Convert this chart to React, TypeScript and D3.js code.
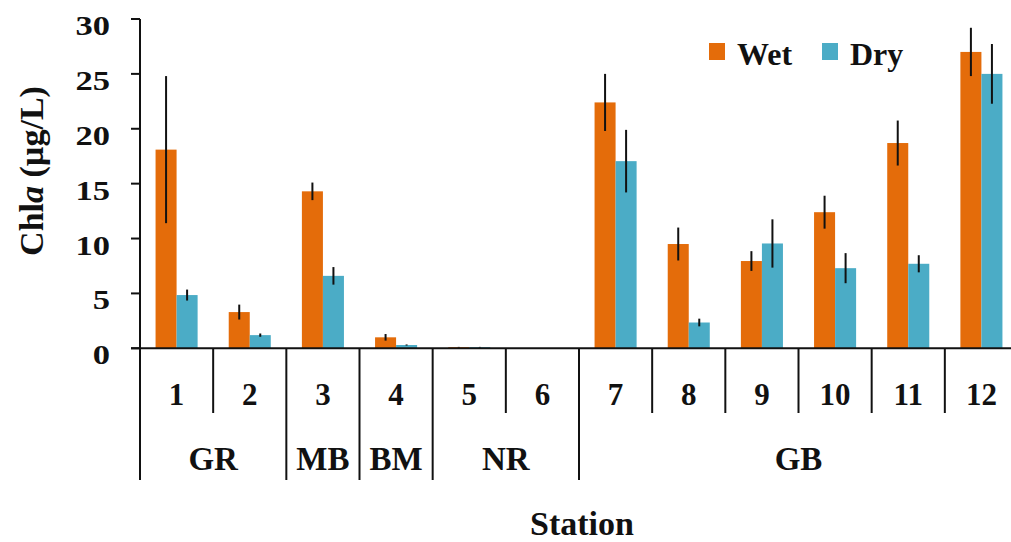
import React from "react";
import * as d3 from "d3";

const stations = ["1", "2", "3", "4", "5", "6", "7", "8", "9", "10", "11", "12"];
const wetValues = [18.1, 3.3, 14.3, 1.0, 0.1, 0, 22.4, 9.5, 7.95, 12.4, 18.7, 27.0];
const wetErrors = [6.7, 0.68, 0.8, 0.3, 0.03, 0, 2.6, 1.5, 0.9, 1.5, 2.05, 2.2];
const dryValues = [4.85, 1.2, 6.6, 0.3, 0.1, 0, 17.05, 2.35, 9.55, 7.3, 7.7, 25.0];
const dryErrors = [0.5, 0.15, 0.8, 0.05, 0.03, 0, 2.85, 0.35, 2.2, 1.37, 0.78, 2.72];
const groupNames = ["GR", "MB", "BM", "NR", "GB"];
const groupStarts = [0, 2, 3, 4, 6];
const groupEnds = [1, 2, 3, 5, 11];
const seriesNames = ["Wet", "Dry"];
const yTicks = [0, 5, 10, 15, 20, 25, 30];

const COLORS: Record<string, string> = { Wet: "#E46C0A", Dry: "#4BACC6" };
const FONT = "'Liberation Serif', 'Times New Roman', serif";

export default function App() {
  const W = 1011;
  const H = 542;
  const left = 140;
  const right = 1018;
  const y0 = 348.3;
  const yTop = 19;

  const x = d3.scaleBand<string>().domain(stations).range([left, right]).paddingInner(0).paddingOuter(0);
  const bw = x.bandwidth();
  const x1 = d3.scaleBand<string>().domain(seriesNames).range([0, bw]).paddingInner(0).paddingOuter(0.74);
  const y = d3.scaleLinear().domain([0, 30]).range([y0, yTop]);

  const series = [
    { name: "Wet", values: wetValues, errors: wetErrors },
    { name: "Dry", values: dryValues, errors: dryErrors },
  ];

  const groupBoundaries = new Set<number>();
  groupStarts.forEach((s) => groupBoundaries.add(s));
  groupEnds.forEach((e) => groupBoundaries.add(e + 1));

  const boundaries = d3.range(0, stations.length + 1);
  const bx = (i: number) => left + i * bw;

  return (
    <svg width={W} height={H} style={{ position: "absolute", left: 0, top: 0, background: "#fff" }}>
      {/* bars */}
      {series.map((s) => (
        <g key={s.name}>
          {stations.map((st, i) => (
            <rect
              key={st}
              x={(x(st) as number) + (x1(s.name) as number)}
              y={y(s.values[i])}
              width={x1.bandwidth()}
              height={y0 - y(s.values[i])}
              fill={COLORS[s.name]}
            />
          ))}
        </g>
      ))}
      {/* error bars */}
      {series.map((s) => (
        <g key={s.name + "err"}>
          {stations.map((st, i) =>
            s.errors[i] > 0 ? (
              <line
                key={st}
                x1={(x(st) as number) + (x1(s.name) as number) + x1.bandwidth() / 2}
                x2={(x(st) as number) + (x1(s.name) as number) + x1.bandwidth() / 2}
                y1={y(s.values[i] + s.errors[i])}
                y2={y(Math.max(0, s.values[i] - s.errors[i]))}
                stroke="#111"
                strokeWidth={2}
              />
            ) : null
          )}
        </g>
      ))}
      {/* y axis */}
      <line x1={left} x2={left} y1={yTop} y2={y0} stroke="#111" strokeWidth={2} />
      {yTicks.map((t) => (
        <g key={t}>
          <line x1={131} x2={left} y1={y(t)} y2={y(t)} stroke="#111" strokeWidth={2} />
          <g transform={`translate(110,${y(t) + 16}) scale(1.28,1)`}>
            <text textAnchor="end" fontFamily={FONT} fontWeight="bold" fontSize={27} fill="#111">
              {t}
            </text>
          </g>
        </g>
      ))}
      {/* x axis */}
      <line x1={131} x2={right} y1={y0} y2={y0} stroke="#111" strokeWidth={2} />
      {boundaries.map((i) => (
        <line
          key={i}
          x1={bx(i)}
          x2={bx(i)}
          y1={y0}
          y2={groupBoundaries.has(i) ? 480 : 413}
          stroke="#111"
          strokeWidth={2}
        />
      ))}
      {stations.map((st) => (
        <text
          key={st}
          x={(x(st) as number) + bw / 2}
          y={405}
          textAnchor="middle"
          fontFamily={FONT}
          fontWeight="bold"
          fontSize={31}
          fill="#111"
        >
          {st}
        </text>
      ))}
      {groupNames.map((g, gi) => (
        <text
          key={g}
          x={(bx(groupStarts[gi]) + bx(groupEnds[gi] + 1)) / 2}
          y={470}
          textAnchor="middle"
          fontFamily={FONT}
          fontWeight="bold"
          fontSize={33}
          fill="#111"
        >
          {g}
        </text>
      ))}
      <text x={582} y={535} textAnchor="middle" fontFamily={FONT} fontWeight="bold" fontSize={34} fill="#111">
        Station
      </text>
      <text
        transform={`translate(43,171) rotate(-90)`}
        textAnchor="middle"
        fontFamily={FONT}
        fontWeight="bold"
        fontSize={34}
        fill="#111"
      >
        Chl<tspan fontStyle="italic">a</tspan> (µg/L)
      </text>
      {/* legend */}
      {seriesNames.map((n, i) => {
        const lx = [709, 822][i];
        return (
          <g key={n}>
            <rect x={lx} y={43} width={16} height={17} fill={COLORS[n]} />
            <text x={lx + 28} y={65} fontFamily={FONT} fontWeight="bold" fontSize={32} fill="#111">
              {n}
            </text>
          </g>
        );
      })}
    </svg>
  );
}
